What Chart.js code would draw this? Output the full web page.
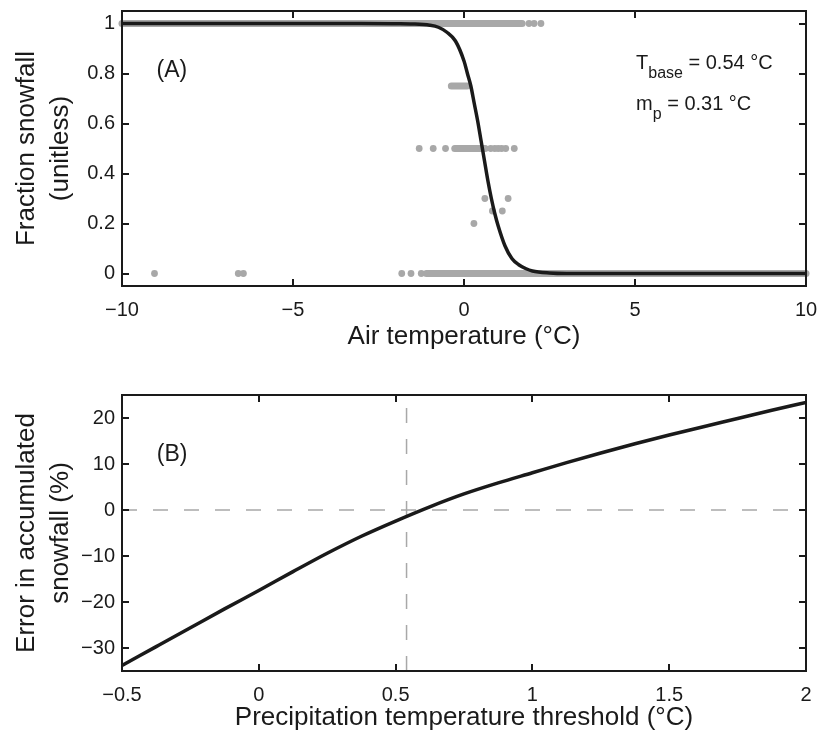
<!DOCTYPE html>
<html>
<head>
<meta charset="utf-8">
<script src="https://cdn.jsdelivr.net/npm/chart.js@4.4.1/dist/chart.umd.min.js"></script>
<style>
  body { margin: 0; background: #fff; }
  #wrap { position: relative; width: 820px; height: 735px; }
  canvas { position: absolute; left: 0; }
</style>
</head>
<body>
<div id="wrap">
  <canvas id="panel-a" width="820" height="360" style="top:0"></canvas>
  <canvas id="panel-b" width="820" height="375" style="top:360px"></canvas>
</div>
<script>
// ---- panel (A): fraction snowfall vs air temperature ----
var airTempTicks = [-10, -5, 0, 5, 10];
var fractionTicks = [0, 0.2, 0.4, 0.6, 0.8, 1];

// fitted curve
var curveTemp = [-10, -3, -2, -1.5, -1, -0.75, -0.5, -0.25, 0, 0.1, 0.2, 0.3, 0.4, 0.5, 0.6, 0.7, 0.8, 0.9, 1.0, 1.2, 1.4, 1.6, 1.8, 2.0, 2.5, 3, 5, 10];
var curveFrac = [1, 1, 0.999, 0.998, 0.993, 0.985, 0.965, 0.93, 0.85, 0.8, 0.75, 0.68, 0.61, 0.53, 0.45, 0.37, 0.3, 0.24, 0.19, 0.11, 0.06, 0.035, 0.02, 0.01, 0.002, 0, 0, 0];

// observations: dense runs (start..end at one fraction) and single points
var runFrac = [1, 0.75, 0.5, 0];
var runStart = [-10, -0.37, -0.27, -1.1];
var runEnd = [1.7, 0.09, 0.62, 10];
var obsTemp = [1.9, 2.05, 2.25, -1.31, -0.9, -0.54, 0.78, 0.9, 1.0, 1.1, 1.22, 1.47, 0.61, 1.29, 0.83, 1.12, 0.29, -9.05, -6.6, -6.45, -1.82, -1.55, -1.25];
var obsFrac = [1, 1, 1, 0.5, 0.5, 0.5, 0.5, 0.5, 0.5, 0.5, 0.5, 0.5, 0.3, 0.3, 0.25, 0.25, 0.2, 0, 0, 0, 0, 0, 0];

// ---- panel (B): error in accumulated snowfall vs threshold ----
var thresholdTicks = [-0.5, 0, 0.5, 1, 1.5, 2];
var errorTicks = [-30, -20, -10, 0, 10, 20];
var threshold = [-0.5, -0.375, -0.25, -0.125, 0, 0.125, 0.25, 0.375, 0.5, 0.625, 0.75, 0.875, 1, 1.125, 1.25, 1.375, 1.5, 1.625, 1.75, 1.875, 2];
var errorPct = [-33.8, -29.7, -25.6, -21.5, -17.5, -13.4, -9.4, -5.7, -2.4, 0.7, 3.5, 5.9, 8.1, 10.3, 12.4, 14.4, 16.3, 18.1, 19.9, 21.7, 23.4];
var tBase = 0.54;

var FONT = '"Liberation Sans", Arial, Helvetica, sans-serif';
var INK = '#1a1a1a';
var DOT = '#a8a8a8';
var DASH = '#a8a8a8';

function pts(xs, ys) {
    return xs.map(function (x, i) { return { x: x, y: ys[i] }; });
}

function fmt(v) {
    return String(v).replace('-', '\u2212');
}

function axis(min, max, ticks, title, titlePad, isX, size) {
    return {
        type: 'linear',
        min: min,
        max: max,
        afterBuildTicks: function (scale) {
            scale.ticks = ticks.map(function (v) { return { value: v }; });
        },
        afterFit: function (scale) {
            if (isX) scale.height = size; else scale.width = size;
            // keep the plot box where layout.padding puts it
            scale.paddingTop = scale.paddingBottom = 0;
            scale.paddingLeft = scale.paddingRight = 0;
        },
        grid: { display: false, drawTicks: false },
        border: { display: false },
        ticks: {
            color: INK,
            padding: isX ? 12 : 7,
            font: { family: FONT, size: 20 },
            callback: function (v) { return fmt(v); }
        },
        title: {
            display: true,
            text: title,
            color: INK,
            font: { family: FONT, size: 26, lineHeight: isX ? 1.2 : 1.31 },
            padding: titlePad
        }
    };
}

// box with inward ticks on all four sides
var framePlugin = {
    id: 'frame',
    afterDraw: function (chart) {
        var ctx = chart.ctx, a = chart.chartArea;
        var xs = chart.scales.x, ys = chart.scales.y;
        ctx.save();
        ctx.strokeStyle = INK;
        ctx.lineWidth = 2;
        ctx.beginPath();
        xs.ticks.forEach(function (t) {
            var px = Math.round(xs.getPixelForValue(t.value));
            ctx.moveTo(px, a.bottom); ctx.lineTo(px, a.bottom - 7);
            ctx.moveTo(px, a.top); ctx.lineTo(px, a.top + 7);
        });
        ys.ticks.forEach(function (t) {
            var py = Math.round(ys.getPixelForValue(t.value));
            ctx.moveTo(a.left, py); ctx.lineTo(a.left + 7, py);
            ctx.moveTo(a.right, py); ctx.lineTo(a.right - 7, py);
        });
        ctx.stroke();
        ctx.strokeRect(a.left, a.top, a.right - a.left, a.bottom - a.top);
        ctx.restore();
    }
};

// text labels placed in data units
function textPlugin(items) {
    return {
        id: 'labels',
        afterDraw: function (chart) {
            var ctx = chart.ctx, xs = chart.scales.x, ys = chart.scales.y;
            ctx.save();
            ctx.fillStyle = INK;
            ctx.textBaseline = 'alphabetic';
            ctx.textAlign = 'left';
            items.forEach(function (it) {
                var px = xs.getPixelForValue(it.x), py = ys.getPixelForValue(it.y);
                ctx.font = it.size + 'px ' + FONT;
                ctx.fillText(it.main, px, py);
                if (it.sub) {
                    px += ctx.measureText(it.main).width;
                    ctx.font = '16px ' + FONT;
                    ctx.fillText(it.sub, px, py + 9);
                    px += ctx.measureText(it.sub).width;
                    ctx.font = it.size + 'px ' + FONT;
                    ctx.fillText(' ' + it.rest, px, py);
                }
            });
            ctx.restore();
        }
    };
}

var common = {
    responsive: false,
    animation: false,
    plugins: { legend: { display: false }, tooltip: { enabled: false } }
};

// ---- chart A ----
var datasetsA = [{
    data: pts(curveTemp, curveFrac),
    showLine: true,
    borderColor: INK,
    borderWidth: 3.5,
    pointRadius: 0,
    cubicInterpolationMode: 'monotone',
    clip: 6
}];
runFrac.forEach(function (f, i) {
    datasetsA.push({
        data: [{ x: runStart[i], y: f }, { x: runEnd[i], y: f }],
        showLine: true,
        borderColor: DOT,
        borderWidth: 7,
        borderCapStyle: 'round',
        pointRadius: 0,
        clip: 6
    });
});
datasetsA.push({
    data: pts(obsTemp, obsFrac),
    pointRadius: 3.4,
    pointBackgroundColor: DOT,
    pointBorderWidth: 0,
    clip: 6
});

var ctx = document.getElementById('panel-a').getContext('2d');
var chartA = new Chart(ctx, {
    type: 'scatter',
    data: { datasets: datasetsA },
    options: Object.assign({}, common, {
        layout: { padding: { top: 11, right: 14, left: 0, bottom: 0 } },
        scales: {
            x: axis(-10, 10, airTempTicks, 'Air temperature (°C)', { top: 0, bottom: 7.7 }, true, 74),
            y: axis(-0.05, 1.05, fractionTicks, ['Fraction snowfall', '(unitless)'], { top: 9.7, bottom: 0 }, false, 122)
        }
    }),
    plugins: [framePlugin, textPlugin([
        { main: '(A)', x: -8.99, y: 0.786, size: 23 },
        { main: 'T', sub: 'base', rest: '= 0.54 °C', x: 5.03, y: 0.818, size: 20 },
        { main: 'm', sub: 'p', rest: '= 0.31 °C', x: 5.03, y: 0.654, size: 20 }
    ])]
});

// ---- chart B ----
var ctx = document.getElementById('panel-b').getContext('2d');
var chartB = new Chart(ctx, {
    type: 'scatter',
    data: {
        datasets: [{
            data: pts(threshold, errorPct),
            showLine: true,
            borderColor: INK,
            borderWidth: 3.5,
            pointRadius: 0,
            cubicInterpolationMode: 'monotone'
        }, {
            data: [{ x: -0.5, y: 0 }, { x: 2, y: 0 }],
            showLine: true,
            borderColor: DASH,
            borderWidth: 1.5,
            borderDash: [15, 16],
            pointRadius: 0
        }, {
            data: [{ x: tBase, y: -35 }, { x: tBase, y: 25 }],
            showLine: true,
            borderColor: DASH,
            borderWidth: 1.5,
            borderDash: [15, 16],
            pointRadius: 0
        }]
    },
    options: Object.assign({}, common, {
        layout: { padding: { top: 35, right: 14, left: 0, bottom: 0 } },
        scales: {
            x: axis(-0.5, 2, thresholdTicks, 'Precipitation temperature threshold (°C)', { top: 0, bottom: 1.7 }, true, 64),
            y: axis(-35, 25, errorTicks, ['Error in accumulated', 'snowfall (%)'], { top: 9.7, bottom: 0 }, false, 122)
        }
    }),
    plugins: [framePlugin, textPlugin([
        { main: '(B)', x: -0.373, y: 10.6, size: 23 }
    ])]
});
</script>
</body>
</html>
